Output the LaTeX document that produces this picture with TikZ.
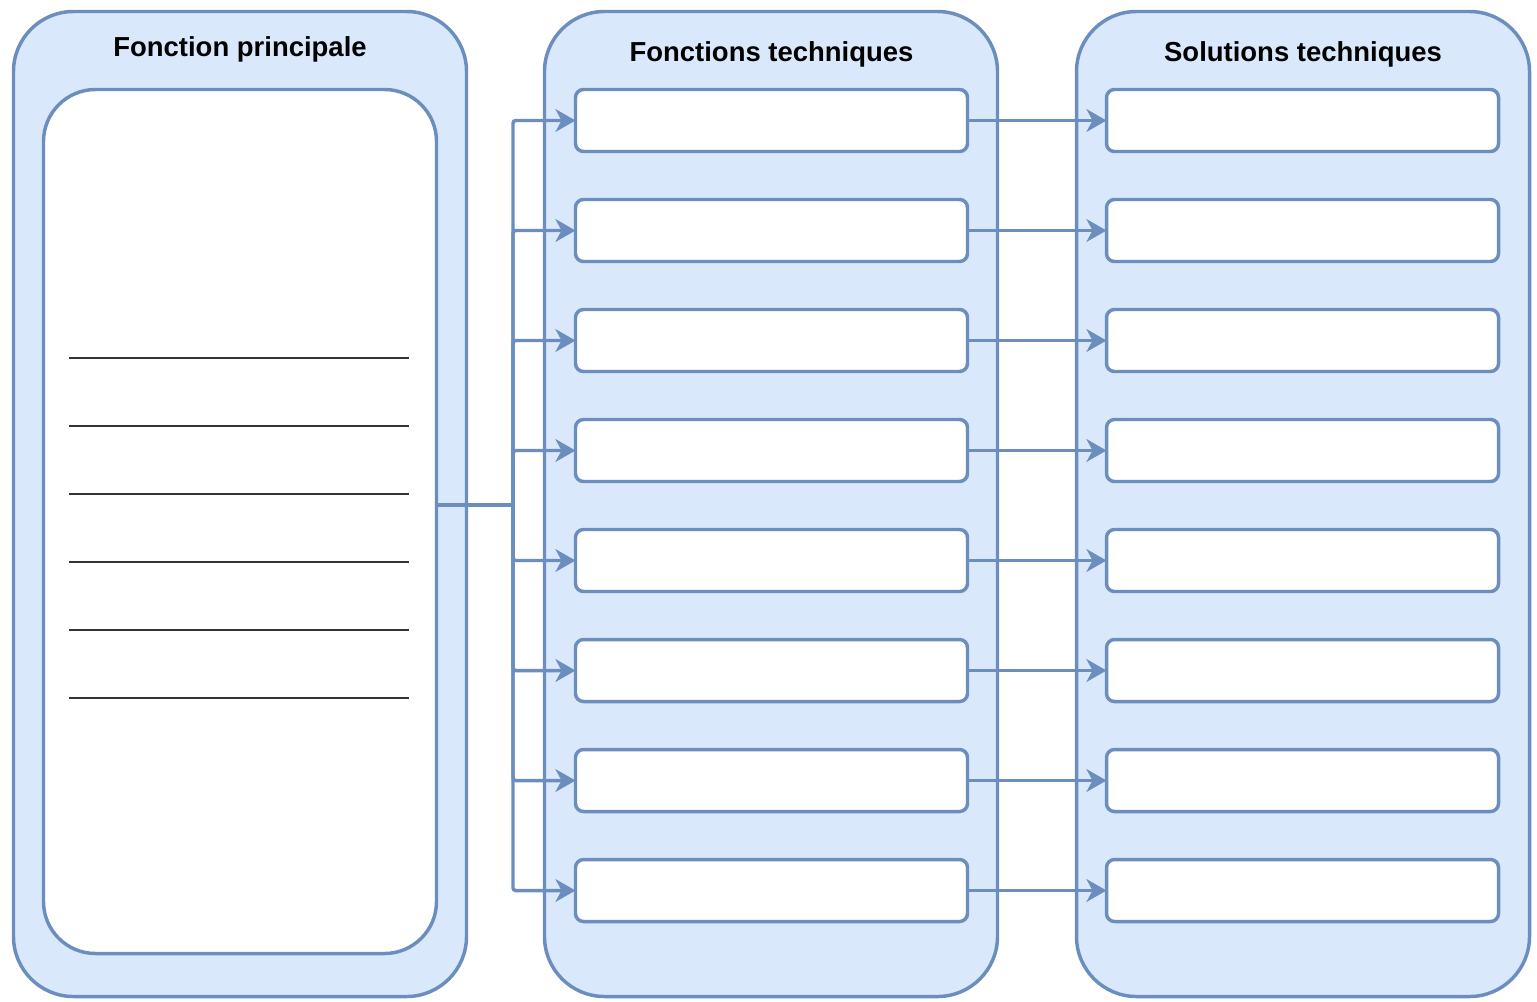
\documentclass[tikz,border=0pt]{standalone}
\usepackage{fontspec}
\setmainfont{Liberation Sans}
\usetikzlibrary{positioning,arrows.meta}
\definecolor{frameblue}{HTML}{6C8EBF}
\definecolor{paleblue}{HTML}{DAE8FC}

\begin{document}
\begin{tikzpicture}[
  x=0.75pt, y=-0.75pt,
  node distance=36pt and 104.25pt,
  % Large rounded columns holding each group
  column/.style={rectangle, rounded corners=45pt, draw=frameblue,
    fill=paleblue, line width=2.6pt, minimum width=339.75pt,
    minimum height=738.75pt, inner sep=0pt, outer sep=0pt,
    anchor=north west},
  % White writing area for the main function
  sheet/.style={rectangle, rounded corners=39pt, draw=frameblue,
    fill=white, line width=2.6pt, minimum width=294.75pt,
    minimum height=648pt, inner sep=0pt, outer sep=0pt,
    anchor=north west},
  % Empty slots for technical functions / solutions
  slot/.style={rectangle, rounded corners=6pt, draw=frameblue,
    fill=white, line width=2.6pt, minimum width=294pt,
    minimum height=46.5pt, inner sep=0pt, outer sep=0pt},
  % Column headings
  heading/.style={font=\fontsize{20.6pt}{24pt}\selectfont\bfseries,
    anchor=base, inner sep=0pt},
  % Ruled writing lines
  rule/.style={draw=black!80, line width=1pt},
  % Blue connectors with filled heads
  link/.style={draw=frameblue, line width=2.6pt, rounded corners=2pt,
    -{Stealth[length=15pt, width=17pt, inset=4.5pt]}},
  every edge/.style={link},
]
  \useasboundingbox (0,0) rectangle (1537,1001);

  % === Columns ===
  \node[column] (fp) at (13.5,11.5) {};
  \node[column] (ft) at (544.5,11.5) {};
  \node[column] (st) at (1076.5,11.5) {};

  % === Headings ===
  \node[heading] (fptitle) at (240,56.5) {Fonction principale};
  \node[heading] (fttitle) at (771.5,61.5) {Fonctions techniques};
  \node[heading] (sttitle) at (1303,61.5) {Solutions techniques};

  % === Main function sheet with ruled lines ===
  \node[sheet] (main) at (43.5,89.5) {};
  \draw[rule] (69,358) -- (409,358);
  \draw[rule] (69,426) -- (409,426);
  \draw[rule] (69,494) -- (409,494);
  \draw[rule] (69,562) -- (409,562);
  \draw[rule] (69,630) -- (409,630);
  \draw[rule] (69,698) -- (409,698);

  % === Technical functions ===
  \node[slot, anchor=north west] (ft1) at (575.5,89.5) {};
  \node[slot, below=of ft1] (ft2) {};
  \node[slot, below=of ft2] (ft3) {};
  \node[slot, below=of ft3] (ft4) {};
  \node[slot, below=of ft4] (ft5) {};
  \node[slot, below=of ft5] (ft6) {};
  \node[slot, below=of ft6] (ft7) {};
  \node[slot, below=of ft7] (ft8) {};

  % === Technical solutions ===
  \node[slot, right=of ft1] (st1) {};
  \node[slot, right=of ft2] (st2) {};
  \node[slot, right=of ft3] (st3) {};
  \node[slot, right=of ft4] (st4) {};
  \node[slot, right=of ft5] (st5) {};
  \node[slot, right=of ft6] (st6) {};
  \node[slot, right=of ft7] (st7) {};
  \node[slot, right=of ft8] (st8) {};

  % === Edges: main function -> technical functions ===
  \coordinate (bus) at (513,505);
  \draw[link, -] (main.east |- bus) -- (bus);
  \draw[link] (bus) |- (ft1.west);
  \draw[link] (bus) |- (ft2.west);
  \draw[link] (bus) |- (ft3.west);
  \draw[link] (bus) |- (ft4.west);
  \draw[link] (bus) |- (ft5.west);
  \draw[link] (bus) |- (ft6.west);
  \draw[link] (bus) |- (ft7.west);
  \draw[link] (bus) |- (ft8.west);

  % === Edges: functions -> solutions ===
  \path (ft1) edge (st1);
  \path (ft2) edge (st2);
  \path (ft3) edge (st3);
  \path (ft4) edge (st4);
  \path (ft5) edge (st5);
  \path (ft6) edge (st6);
  \path (ft7) edge (st7);
  \path (ft8) edge (st8);
\end{tikzpicture}
\end{document}
